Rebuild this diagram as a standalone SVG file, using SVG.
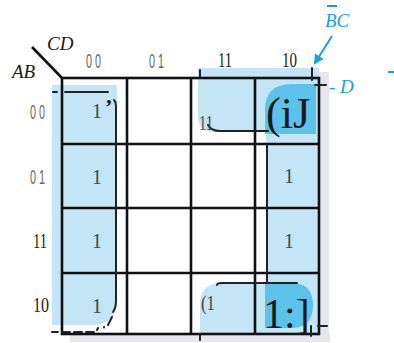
<svg xmlns="http://www.w3.org/2000/svg" width="394" height="343" viewBox="0 0 394 343">
<style>
.lb{fill:#c3e5f5}
.mb{fill:#5cc2ea}
.band{fill:#e6e6ee}
.grid{fill:none;stroke:#111;stroke-width:2.6}
.ol{fill:none;stroke:#222;stroke-width:2;stroke-linecap:round}
.thin{font-family:"Liberation Sans","DejaVu Sans",sans-serif;font-size:21px;fill:#666}
.ser{font-family:"Liberation Serif","DejaVu Serif",serif;fill:#1a1a1a}
.one{font-family:"Liberation Serif","DejaVu Serif",serif;font-size:20px;fill:#444}
.ital{font-family:"Liberation Serif","DejaVu Serif",serif;font-style:italic;font-size:19px;fill:#1a1a1a}
.cy{font-family:"Liberation Serif","DejaVu Serif",serif;font-style:italic;font-size:19px;fill:#1a9fdc}
.cyl{fill:none;stroke:#1a9fdc;stroke-width:2}
</style>
<defs>
<marker id="ah" viewBox="0 0 10 10" refX="8" refY="5" markerWidth="5" markerHeight="5" orient="auto">
<path d="M0,0 L10,5 L0,10 z" fill="#1a9fdc"/>
</marker>
</defs>

<g id="bands">
<rect class="band" x="319" y="72" width="10" height="270"/>
<rect class="band" x="70" y="334" width="260" height="8"/>
</g>

<g id="shading">
<path class="lb" d="M52,85 H117 V300 Q117,325 92,325 H52 Z"/>
<path class="lb" d="M198,68 H319 V132 H214 Q198,132 198,116 Z"/>
<rect class="lb" x="266" y="85" width="54" height="245"/>
<path class="lb" d="M222,283 H318 V334 H200 V305 Q200,283 222,283 Z"/>
<path class="mb" d="M265,110 Q265,84 292,84 H316 V134 H265 Z"/>
<path class="mb" d="M265,283 H291 Q313,283 313,305 Q313,328 291,328 H265 Z"/>
</g>

<g id="grid">
<rect class="grid" x="62" y="78" width="257" height="256"/>
<line class="grid" x1="127" y1="78" x2="127" y2="334"/>
<line class="grid" x1="191" y1="78" x2="191" y2="334"/>
<line class="grid" x1="255" y1="78" x2="255" y2="334"/>
<line class="grid" x1="62" y1="144" x2="319" y2="144"/>
<line class="grid" x1="62" y1="208" x2="319" y2="208"/>
<line class="grid" x1="62" y1="273" x2="319" y2="273"/>
<line class="grid" x1="32" y1="47" x2="62" y2="78"/>
</g>

<g id="outlines">
<path class="ol" d="M65,92 H108"/>
<path class="ol" d="M53,92 H57"/>
<path class="ol" d="M114,100 Q116,102 116,106 V300 Q116,308 113,312"/>
<path class="ol" d="M52,332 H58 M62,332 H70 M74,332 H82 M86,332 H94" stroke-width="1.4"/>
<path class="ol" d="M98,328 L97,330 M104,327 L104,327.5 M108,325 L112,317" stroke-width="1.4"/>
<path class="ol" d="M208,125 Q211,131 220,131 H268"/>
<path class="ol" d="M267,144 V283"/>
<path class="ol" d="M217,285 Q217,283 222,283 H297"/>
<path class="ol" d="M200,70 V78"/>
<path class="ol" d="M312,68 V80"/>
<path class="ol" d="M315,85 H326"/>
<path class="ol" d="M318,326 H327"/>
<path class="ol" d="M311,326 V336"/>
<path class="ol" d="M200,334 V340"/>
</g>

<g id="headers">
<text class="ital" x="47" y="50">CD</text>
<text class="ital" x="12" y="78">AB</text>
<text class="thin" x="86" y="68" textLength="15" lengthAdjust="spacingAndGlyphs">0 0</text>
<text class="thin" x="149" y="68" textLength="15" lengthAdjust="spacingAndGlyphs">0 1</text>
<text class="ser" x="218" y="67" font-size="20" textLength="14" lengthAdjust="spacingAndGlyphs">11</text>
<text class="ser" x="282" y="67" font-size="20" textLength="15" lengthAdjust="spacingAndGlyphs">10</text>
<text class="thin" x="30" y="119" textLength="15" lengthAdjust="spacingAndGlyphs">0 0</text>
<text class="thin" x="30" y="184" textLength="15" lengthAdjust="spacingAndGlyphs">0 1</text>
<text class="ser" x="33" y="248" font-size="20" textLength="14" lengthAdjust="spacingAndGlyphs">11</text>
<text class="ser" x="33" y="312" font-size="20" textLength="16" lengthAdjust="spacingAndGlyphs">10</text>
</g>

<g id="cells">
<text class="one" x="92" y="118">1</text>
<text class="ser" x="105" y="114" font-size="22" font-weight="bold">’</text>
<text class="one" x="92" y="184">1</text>
<text class="one" x="92" y="248">1</text>
<text class="one" x="92" y="313">1</text>
<text class="one" x="284" y="183">1</text>
<text class="one" x="284" y="248">1</text>
<text class="one" x="199" y="130" textLength="14" lengthAdjust="spacingAndGlyphs">11</text>
<text class="one" x="201" y="310" textLength="14" lengthAdjust="spacingAndGlyphs">(1</text>
<text class="ser" x="266" y="128" font-size="44" fill="#111">(iJ</text>
<text class="ser" x="263" y="328" font-size="42" fill="#111">1:]</text>
</g>

<g id="labels">
<line class="cyl" x1="332" y1="36" x2="315" y2="63" marker-end="url(#ah)"/>
<line class="cyl" x1="327" y1="6" x2="337" y2="6" stroke-width="1.5"/>
<text class="cy" x="325" y="27">BC</text>
<text class="cy" x="329" y="93">- D</text>
<line class="cyl" x1="388" y1="72" x2="394" y2="72" stroke-width="1.5"/>
</g>
</svg>
